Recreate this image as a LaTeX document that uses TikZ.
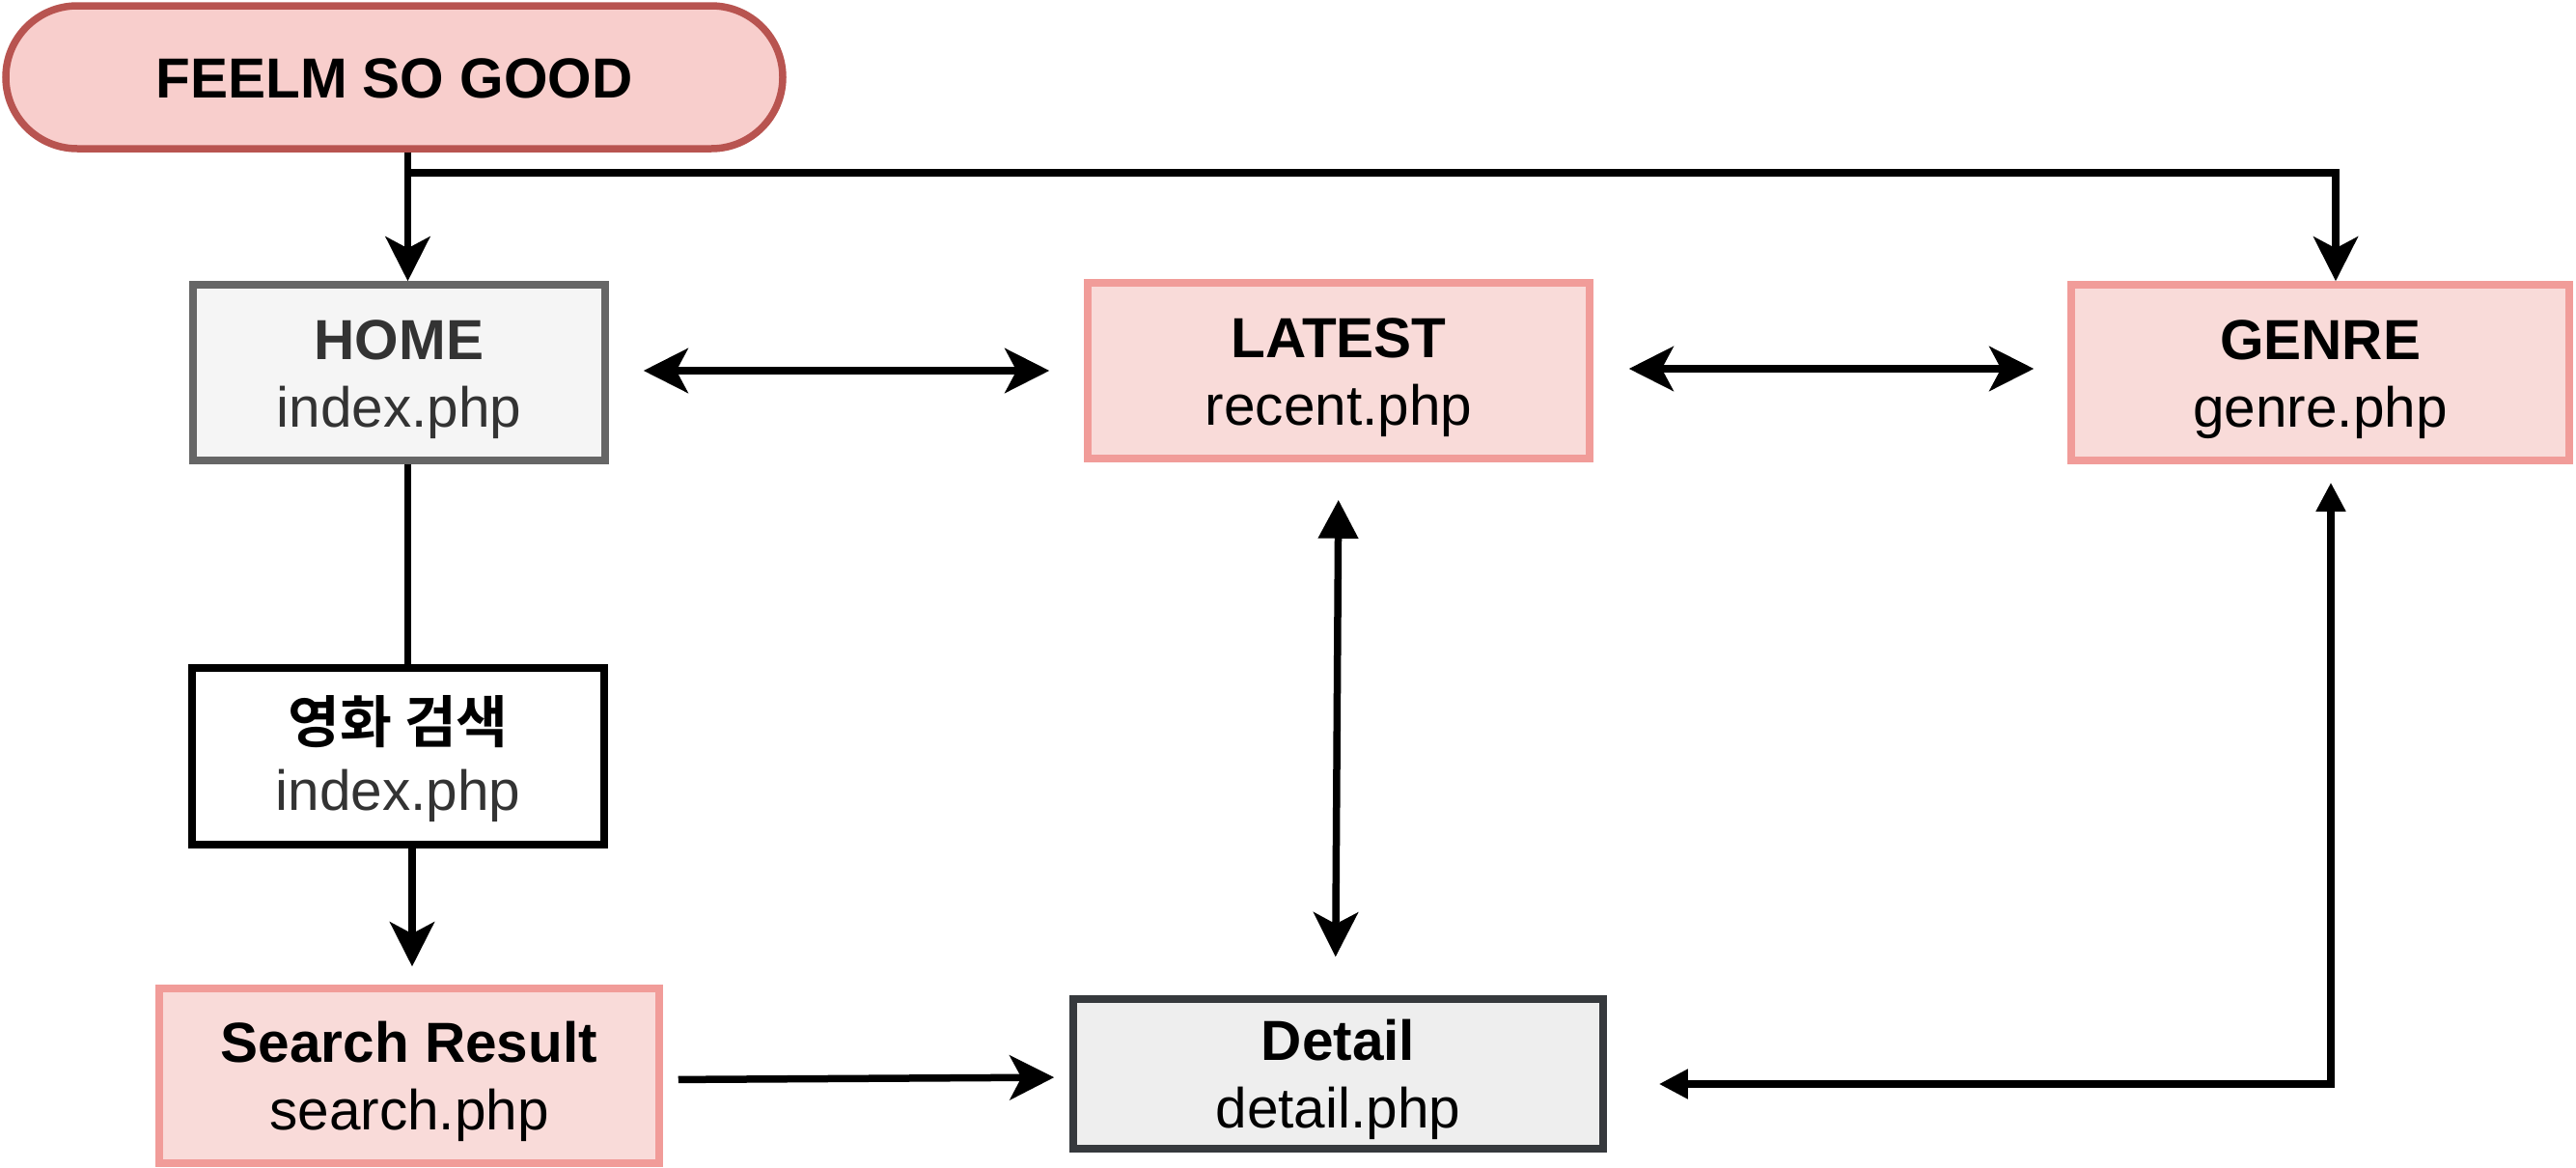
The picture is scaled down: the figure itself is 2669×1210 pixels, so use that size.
\documentclass[tikz,border=0pt]{standalone}
\usepackage{fontspec}
\setmainfont{Liberation Sans}
\newfontfamily\krbold{Noto Sans CJK KR Bold}
\usetikzlibrary{arrows.meta}
\definecolor{termfill}{HTML}{F8CECC}
\definecolor{termdraw}{HTML}{B85450}
\definecolor{pinkfill}{HTML}{F9DBD9}
\definecolor{pinkdraw}{HTML}{F19C99}
\definecolor{grayfill}{HTML}{F5F5F5}
\definecolor{graydraw}{HTML}{666666}
\definecolor{graytext}{HTML}{333333}
\definecolor{detfill}{HTML}{EEEEEE}
\definecolor{detdraw}{HTML}{36393D}
\newcommand\mystrut{\rule[-14pt]{0pt}{70pt}}
\tikzset{
  Cls/.tip={Stealth[length=46pt,width=46pt,inset=12pt]},
  Blk/.tip={Triangle[length=40pt,width=40pt]},
  BlkS/.tip={Triangle[length=30pt,width=29pt]},
  box/.style={draw, line width=7.5pt, inner sep=0pt, align=center,
    font=\fontsize{58.5}{70}\selectfont},
  pinkbox/.style={box, fill=pinkfill, draw=pinkdraw},
  conn/.style={line width=7.5pt, draw=black}
}
\begin{document}
\begin{tikzpicture}[x=1pt,y=-1pt]
\useasboundingbox (0,0) rectangle (2669,1210);

\node[box, draw=termdraw, fill=termfill, rounded corners=74pt,
  minimum width=805pt, minimum height=148pt] (term) at (408.5,80)
  {\mystrut\textbf{FEELM SO GOOD}};
\node[box, draw=graydraw, fill=grayfill, text=graytext,
  minimum width=427pt, minimum height=182pt] (home) at (413.5,386)
  {\mystrut\textbf{HOME}\\\mystrut index.php};
\node[pinkbox, minimum width=520pt, minimum height=182pt] (latest) at (1387,384)
  {\mystrut\textbf{LATEST}\\\mystrut recent.php};
\node[pinkbox, minimum width=516pt, minimum height=182pt] (genre) at (2404,386)
  {\mystrut\textbf{GENRE}\\\mystrut genre.php};
\node[box, draw=black, fill=white,
  minimum width=427pt, minimum height=183pt] (find) at (412.5,783.5)
  {\mystrut{\krbold 영화 검색}\\\mystrut{\color{graytext}index.php}};
\node[pinkbox, minimum width=518pt, minimum height=181pt] (result) at (424,1114.5)
  {\mystrut\textbf{Search Result}\\\mystrut search.php};
\node[box, draw=detdraw, fill=detfill,
  minimum width=549pt, minimum height=155pt] (detail) at (1386.5,1112.5)
  {\mystrut\textbf{Detail}\\\mystrut detail.php};

\coordinate (split) at (422.5,179);

% connectors
\draw[conn, -Cls] (split |- term.south) -- (split |- home.north);
\draw[conn, -Cls] (split) -| ([xshift=16pt]genre.north);
\draw[conn, Cls-Cls, shorten <=36pt, shorten >=36pt]
  ([yshift=2pt]home.east) -- ([yshift=2pt]home.east -| latest.west);
\draw[conn, Cls-Cls, shorten <=37pt, shorten >=35pt]
  ([yshift=2pt]latest.east) -- ([yshift=2pt]latest.east -| genre.west);
\draw[conn, Blk-Cls, shorten <=39pt, shorten >=40pt]
  (latest.south) -- ([xshift=-3pt]detail.north);
\draw[conn] ([xshift=9pt]home.south) -- ([xshift=10pt]find.north);
\draw[conn, -Cls, shorten >=19pt]
  ([xshift=14.5pt]find.south) -- ([xshift=14.5pt]find.south |- result.north);
\draw[conn, -Cls, shorten <=16pt, shorten >=16pt]
  ([yshift=-4pt]result.east) -- ([yshift=-3.5pt]detail.west);
\draw[conn, BlkS-BlkS, shorten <=54pt, shorten >=19pt]
  ([yshift=-10.5pt]detail.east) -| ([xshift=11pt]genre.south);
\end{tikzpicture}
\end{document}
